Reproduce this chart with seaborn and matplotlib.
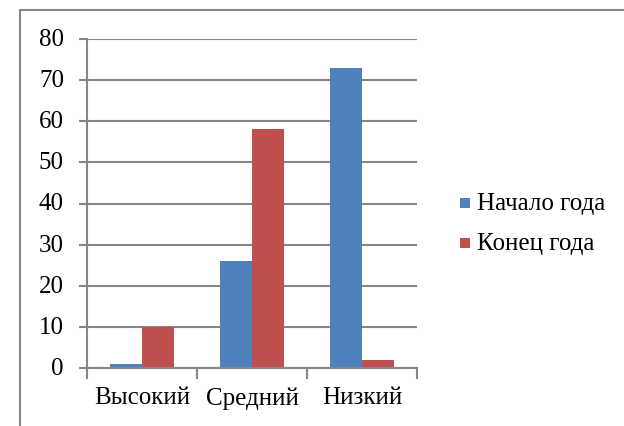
import matplotlib
matplotlib.use("Agg")
import matplotlib.pyplot as plt
import seaborn as sns
import pandas as pd
from matplotlib.patches import Rectangle

categories = ["Высокий", "Средний", "Низкий"]
series_names = ["Начало года", "Конец года"]
start_values = [1, 26, 73]
end_values = [10, 58, 2]
yticks = [0, 10, 20, 30, 40, 50, 60, 70, 80]

colors = ["#4F81BD", "#C0504D"]
grid_col = "#868686"
FS = 18
FAM = "Liberation Serif"

df = pd.DataFrame({
    "cat": categories * 2,
    "series": [series_names[0]] * 3 + [series_names[1]] * 3,
    "value": start_values + end_values,
})

fig = plt.figure(figsize=(6.24, 4.27), dpi=100)
ax = fig.add_axes([87/624, 1 - 369/427, 330/624, 329/427])

sns.barplot(data=df, x="cat", y="value", hue="series", palette=colors,
            width=0.576, ax=ax, legend=False, linewidth=0, saturation=1)

ax.set_xlim(-0.5, 2.5)
ax.set_ylim(0, 80)
ax.set_yticks(yticks)
ax.yaxis.grid(True, color=grid_col, linewidth=1.5)
ax.set_axisbelow(True)
ax.set_xlabel("")
ax.set_ylabel("")

for s in ["top", "right"]:
    ax.spines[s].set_visible(False)
for s in ["left", "bottom"]:
    ax.spines[s].set_color(grid_col)
    ax.spines[s].set_linewidth(1.5)

ax.tick_params(axis="y", length=6, width=1.5, color=grid_col, left=True, labelleft=False)
ax.set_xticks([0, 1, 2])
ax.tick_params(axis="x", which="major", length=0, labelbottom=False)
ax.set_xticks([-0.5, 0.5, 1.5, 2.5], minor=True)
ax.tick_params(axis="x", which="minor", length=8, width=1.5, color=grid_col, bottom=True)

ytr = ax.get_yaxis_transform()
for v in yticks:
    ax.text(-0.07, v, str(v), transform=ytr, ha="right", va="center",
            fontsize=FS, family=FAM, color="black")
xtr = ax.get_xaxis_transform()
for i, c in enumerate(categories):
    ax.text(i, -0.055, c, transform=xtr, ha="center", va="top",
            fontsize=FS, family=FAM, color="black")

# legend drawn as figure texts with square markers
leg_y = [1 - 204/427, 1 - 244/427]
for col, name, yy in zip(colors, series_names, leg_y):
    fig.patches.append(Rectangle((460/624, yy - 5/427), 10/624, 10/427,
                                 transform=fig.transFigure, facecolor=col,
                                 edgecolor="none"))
    fig.text(477/624, yy, name, ha="left", va="center", fontsize=FS,
             family=FAM, color="black")

fig.patches.append(Rectangle((19.5/624, -0.1), 1.5, 1 - 10.5/427 + 0.1,
                             transform=fig.transFigure, fill=False,
                             edgecolor=grid_col, linewidth=1.5))

fig.savefig("out.png", dpi=100)
